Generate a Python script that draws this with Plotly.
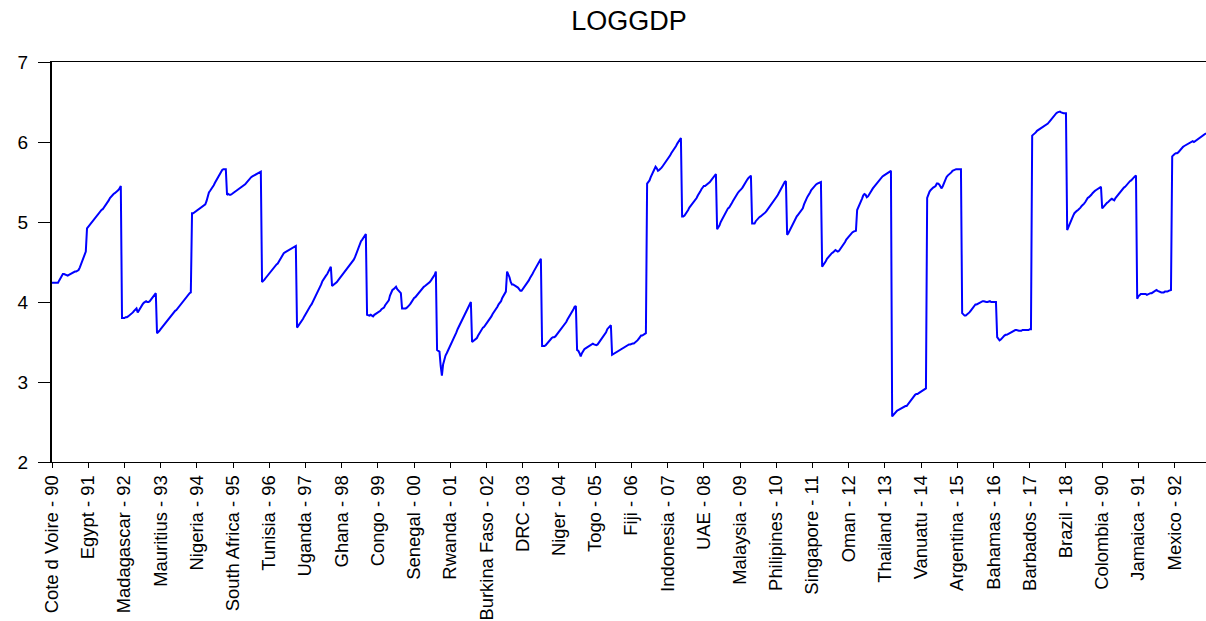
import plotly.graph_objects as go

# Panel: 33 countries, annual observations 1990-2018
years = list(range(1990, 2019))

countries = [
    "Cote d Voire", "Egypt", "Madagascar", "Mauritius", "Nigeria", "South Africa",
    "Tunisia", "Uganda", "Ghana", "Congo", "Senegal", "Rwanda", "Burkina Faso",
    "DRC", "Niger", "Togo", "Fiji", "Indonesia", "UAE", "Malaysia", "Philipines",
    "Singapore", "Oman", "Thailand", "Vanuatu", "Argentina", "Bahamas", "Barbados",
    "Brazil", "Chile", "Colombia", "Jamaica", "Mexico",
]

# LOGGDP by country, 1990..2018
civ = [4.24, 4.24, 4.24, 4.24, 4.24, 4.24, 4.27, 4.30, 4.33, 4.35, 4.35, 4.34, 4.34, 4.33, 4.34,
       4.35, 4.36, 4.37, 4.38, 4.38, 4.38, 4.39, 4.40, 4.43, 4.47, 4.52, 4.56, 4.60, 4.63]
egy = [4.92, 4.94, 4.96, 4.98, 5.00, 5.02, 5.04, 5.06, 5.08, 5.10, 5.12, 5.13, 5.15, 5.16, 5.18,
       5.20, 5.22, 5.24, 5.27, 5.30, 5.32, 5.34, 5.35, 5.36, 5.37, 5.38, 5.40, 5.42, 5.45]
mdg = [3.80, 3.80, 3.80, 3.81, 3.81, 3.82, 3.83, 3.84, 3.85, 3.87, 3.89, 3.91, 3.92, 3.87, 3.90,
       3.93, 3.96, 3.97, 3.99, 4.00, 4.01, 4.00, 4.00, 4.01, 4.03, 4.05, 4.07, 4.09, 4.11]
mus = [3.61, 3.62, 3.64, 3.66, 3.68, 3.70, 3.72, 3.74, 3.76, 3.78, 3.80, 3.82, 3.84, 3.86, 3.87,
       3.89, 3.90, 3.92, 3.94, 3.96, 3.97, 3.99, 4.01, 4.03, 4.05, 4.07, 4.09, 4.11, 4.12]
nga = [5.11, 5.11, 5.12, 5.13, 5.14, 5.15, 5.16, 5.17, 5.18, 5.20, 5.21, 5.22, 5.26, 5.33, 5.37,
       5.39, 5.41, 5.43, 5.46, 5.49, 5.52, 5.55, 5.58, 5.61, 5.63, 5.65, 5.66, 5.66, 5.66]
zaf = [5.34, 5.35, 5.34, 5.34, 5.35, 5.36, 5.37, 5.38, 5.39, 5.40, 5.41, 5.42, 5.43, 5.44, 5.45,
       5.47, 5.49, 5.51, 5.53, 5.55, 5.56, 5.57, 5.58, 5.59, 5.60, 5.61, 5.62, 5.63, 5.63]
tun = [4.25, 4.26, 4.28, 4.30, 4.32, 4.34, 4.36, 4.38, 4.40, 4.42, 4.44, 4.45, 4.47, 4.48, 4.51,
       4.54, 4.56, 4.59, 4.61, 4.62, 4.63, 4.64, 4.64, 4.65, 4.66, 4.67, 4.68, 4.69, 4.70]
uga = [3.68, 3.70, 3.72, 3.74, 3.77, 3.79, 3.82, 3.85, 3.87, 3.90, 3.92, 3.95, 3.97, 4.00, 4.02,
       4.05, 4.08, 4.11, 4.14, 4.18, 4.22, 4.26, 4.29, 4.31, 4.33, 4.35, 4.38, 4.41, 4.44]
gha = [4.20, 4.21, 4.22, 4.23, 4.25, 4.27, 4.29, 4.31, 4.32, 4.34, 4.36, 4.38, 4.40, 4.42, 4.44,
       4.46, 4.48, 4.50, 4.53, 4.56, 4.60, 4.65, 4.70, 4.74, 4.76, 4.78, 4.80, 4.82, 4.85]
cog = [3.84, 3.83, 3.83, 3.84, 3.83, 3.82, 3.84, 3.85, 3.86, 3.86, 3.88, 3.89, 3.91, 3.92, 3.93,
       3.96, 3.98, 4.01, 4.02, 4.08, 4.13, 4.15, 4.16, 4.18, 4.19, 4.16, 4.14, 4.12, 4.11]
sen = [3.92, 3.92, 3.92, 3.92, 3.93, 3.94, 3.96, 3.98, 4.01, 4.03, 4.05, 4.06, 4.08, 4.10, 4.11,
       4.13, 4.15, 4.17, 4.19, 4.20, 4.21, 4.22, 4.23, 4.25, 4.27, 4.29, 4.31, 4.34, 4.38]
rwa = [3.40, 3.39, 3.38, 3.20, 3.08, 3.22, 3.29, 3.33, 3.36, 3.39, 3.42, 3.46, 3.50, 3.52, 3.56,
       3.59, 3.62, 3.66, 3.69, 3.72, 3.75, 3.78, 3.81, 3.84, 3.86, 3.90, 3.93, 3.97, 4.00]
bfa = [3.50, 3.51, 3.53, 3.54, 3.55, 3.58, 3.61, 3.63, 3.66, 3.68, 3.69, 3.71, 3.73, 3.75, 3.77,
       3.79, 3.82, 3.85, 3.87, 3.90, 3.92, 3.94, 3.97, 3.99, 4.01, 4.05, 4.08, 4.11, 4.13]
cod = [4.38, 4.35, 4.31, 4.25, 4.22, 4.22, 4.21, 4.21, 4.20, 4.18, 4.16, 4.14, 4.14, 4.16, 4.18,
       4.20, 4.22, 4.25, 4.27, 4.30, 4.32, 4.35, 4.38, 4.41, 4.43, 4.46, 4.49, 4.52, 4.54]
ner = [3.45, 3.45, 3.45, 3.46, 3.48, 3.49, 3.51, 3.53, 3.55, 3.56, 3.56, 3.57, 3.59, 3.60, 3.62,
       3.64, 3.66, 3.68, 3.70, 3.72, 3.75, 3.78, 3.81, 3.84, 3.86, 3.88, 3.91, 3.94, 3.95]
tgo = [3.40, 3.39, 3.36, 3.32, 3.36, 3.39, 3.41, 3.42, 3.43, 3.44, 3.44, 3.45, 3.47, 3.48, 3.47,
       3.46, 3.46, 3.47, 3.49, 3.51, 3.53, 3.55, 3.58, 3.60, 3.62, 3.66, 3.68, 3.70, 3.71]
fji = [3.34, 3.35, 3.35, 3.36, 3.37, 3.39, 3.40, 3.41, 3.42, 3.42, 3.43, 3.44, 3.45, 3.46, 3.47,
       3.47, 3.48, 3.48, 3.48, 3.49, 3.50, 3.52, 3.54, 3.56, 3.58, 3.58, 3.59, 3.60, 3.61]
idn = [5.48, 5.50, 5.52, 5.56, 5.59, 5.62, 5.66, 5.69, 5.67, 5.64, 5.65, 5.66, 5.68, 5.70, 5.72,
       5.74, 5.76, 5.79, 5.81, 5.83, 5.86, 5.88, 5.90, 5.93, 5.95, 5.98, 6.00, 6.02, 6.05]
are = [5.07, 5.07, 5.08, 5.10, 5.13, 5.15, 5.18, 5.20, 5.21, 5.23, 5.25, 5.27, 5.30, 5.33, 5.35,
       5.38, 5.41, 5.44, 5.45, 5.45, 5.46, 5.47, 5.49, 5.50, 5.52, 5.54, 5.57, 5.59, 5.60]
mys = [4.91, 4.93, 4.96, 5.00, 5.03, 5.06, 5.09, 5.12, 5.16, 5.17, 5.18, 5.20, 5.23, 5.26, 5.29,
       5.31, 5.34, 5.36, 5.38, 5.39, 5.41, 5.43, 5.46, 5.48, 5.50, 5.53, 5.55, 5.57, 5.58]
phl = [4.98, 4.98, 4.98, 5.01, 5.03, 5.05, 5.06, 5.07, 5.08, 5.09, 5.10, 5.12, 5.14, 5.16, 5.18,
       5.21, 5.22, 5.24, 5.27, 5.29, 5.31, 5.33, 5.36, 5.39, 5.42, 5.45, 5.47, 5.50, 5.51]
sgp = [4.84, 4.86, 4.89, 4.92, 4.96, 5.00, 5.03, 5.05, 5.07, 5.09, 5.11, 5.13, 5.15, 5.17, 5.22,
       5.27, 5.29, 5.32, 5.34, 5.37, 5.40, 5.42, 5.44, 5.46, 5.47, 5.48, 5.49, 5.50, 5.50]
omn = [4.44, 4.46, 4.48, 4.51, 4.54, 4.56, 4.58, 4.60, 4.61, 4.62, 4.64, 4.65, 4.64, 4.63, 4.64,
       4.66, 4.68, 4.71, 4.73, 4.75, 4.78, 4.80, 4.82, 4.84, 4.86, 4.87, 4.88, 4.89, 4.89]
tha = [5.15, 5.18, 5.21, 5.25, 5.29, 5.33, 5.35, 5.34, 5.31, 5.32, 5.35, 5.37, 5.39, 5.42, 5.44,
       5.46, 5.48, 5.50, 5.51, 5.53, 5.55, 5.57, 5.58, 5.59, 5.60, 5.61, 5.62, 5.63, 5.64]
vut = [2.57, 2.59, 2.61, 2.63, 2.64, 2.65, 2.66, 2.67, 2.68, 2.69, 2.69, 2.70, 2.70, 2.72, 2.74,
       2.76, 2.79, 2.81, 2.83, 2.84, 2.85, 2.85, 2.86, 2.87, 2.87, 2.88, 2.89, 2.90, 2.92]
arg = [5.30, 5.35, 5.38, 5.40, 5.42, 5.43, 5.44, 5.45, 5.48, 5.48, 5.47, 5.45, 5.42, 5.45, 5.49,
       5.53, 5.56, 5.58, 5.59, 5.60, 5.62, 5.64, 5.65, 5.66, 5.66, 5.66, 5.66, 5.66, 5.66]
bhs = [3.86, 3.84, 3.83, 3.83, 3.84, 3.85, 3.87, 3.89, 3.91, 3.93, 3.95, 3.97, 3.97, 3.98, 3.98,
       3.99, 4.00, 4.01, 4.01, 4.00, 4.00, 4.00, 4.01, 4.01, 4.00, 4.00, 4.00, 4.00, 4.00]
brb = [3.56, 3.54, 3.52, 3.53, 3.55, 3.57, 3.58, 3.59, 3.59, 3.60, 3.61, 3.62, 3.63, 3.64, 3.65,
       3.65, 3.65, 3.64, 3.64, 3.64, 3.64, 3.65, 3.65, 3.65, 3.65, 3.65, 3.65, 3.66, 3.66]
bra = [6.08, 6.09, 6.10, 6.12, 6.14, 6.15, 6.16, 6.17, 6.17, 6.18, 6.19, 6.20, 6.21, 6.23, 6.25,
       6.27, 6.29, 6.31, 6.32, 6.34, 6.36, 6.37, 6.38, 6.38, 6.37, 6.36, 6.36, 6.36, 6.36]
chl = [4.90, 4.94, 4.98, 5.02, 5.05, 5.08, 5.11, 5.13, 5.14, 5.15, 5.16, 5.18, 5.20, 5.21, 5.23,
       5.25, 5.28, 5.30, 5.31, 5.32, 5.34, 5.36, 5.38, 5.39, 5.40, 5.41, 5.42, 5.43, 5.44]
col = [5.17, 5.19, 5.21, 5.22, 5.24, 5.25, 5.27, 5.28, 5.29, 5.28, 5.27, 5.30, 5.32, 5.34, 5.36,
       5.38, 5.40, 5.42, 5.43, 5.44, 5.46, 5.48, 5.49, 5.51, 5.52, 5.54, 5.56, 5.57, 5.58]
jam = [4.04, 4.07, 4.09, 4.10, 4.10, 4.10, 4.10, 4.10, 4.09, 4.10, 4.10, 4.11, 4.11, 4.12, 4.13,
       4.14, 4.15, 4.14, 4.13, 4.12, 4.12, 4.12, 4.12, 4.13, 4.13, 4.13, 4.14, 4.15, 4.15]
mex = [5.82, 5.84, 5.85, 5.86, 5.86, 5.87, 5.89, 5.91, 5.93, 5.94, 5.95, 5.96, 5.97, 5.97, 5.98,
       5.99, 6.00, 6.01, 6.00, 6.01, 6.03, 6.04, 6.05, 6.06, 6.07, 6.08, 6.09, 6.10, 6.11]

series = [civ, egy, mdg, mus, nga, zaf, tun, uga, gha, cog, sen, rwa, bfa, cod, ner, tgo, fji,
          idn, are, mys, phl, sgp, omn, tha, vut, arg, bhs, brb, bra, chl, col, jam, mex]

# Stacked panel: one observation label per country-year, e.g. "Egypt - 91"
obs_labels = []
loggdp = []
for name, vals in zip(countries, series):
    for yr, v in zip(years, vals):
        obs_labels.append(f"{name} - {yr % 100:02d}")
        loggdp.append(v)

# Axis labels every 30 observations
tick_step = 30
tick_labels = obs_labels[::tick_step]

FONT = "Liberation Sans, Arial, sans-serif"

fig = go.Figure(
    go.Scatter(
        x=obs_labels,
        y=loggdp,
        mode="lines",
        line=dict(color="#0000ff", width=2),
        hoverinfo="x+y",
    )
)

fig.update_layout(
    width=1206,
    height=621,
    margin=dict(l=52, r=0, t=62, b=159),
    paper_bgcolor="white",
    plot_bgcolor="white",
    showlegend=False,
    title=dict(
        text="LOGGDP",
        x=0.5,
        xref="paper",
        xanchor="center",
        y=1 - 21 / 621,
        yref="container",
        yanchor="middle",
        font=dict(family=FONT, size=27, color="black"),
    ),
)

fig.update_xaxes(
    type="category",
    range=[0, len(obs_labels) - 1],
    tickmode="array",
    tickvals=tick_labels,
    ticktext=tick_labels,
    tickangle=-90,
    ticks="outside",
    ticklen=5,
    tickwidth=1,
    tickcolor="black",
    tickfont=dict(family=FONT, size=18.4, color="black"),
    automargin=False,
    showline=True,
    linecolor="black",
    linewidth=1,
    mirror=True,
    showgrid=False,
    zeroline=False,
)

fig.update_yaxes(
    range=[2, 7],
    tickmode="linear",
    tick0=2,
    dtick=1,
    ticks="outside",
    ticklen=12,
    tickwidth=1,
    tickcolor="black",
    tickfont=dict(family=FONT, size=19, color="black"),
    ticklabelstandoff=6,
    automargin=False,
    showline=True,
    linecolor="black",
    linewidth=2,
    mirror=False,
    showgrid=False,
    zeroline=False,
)

fig.write_html("out.html")
